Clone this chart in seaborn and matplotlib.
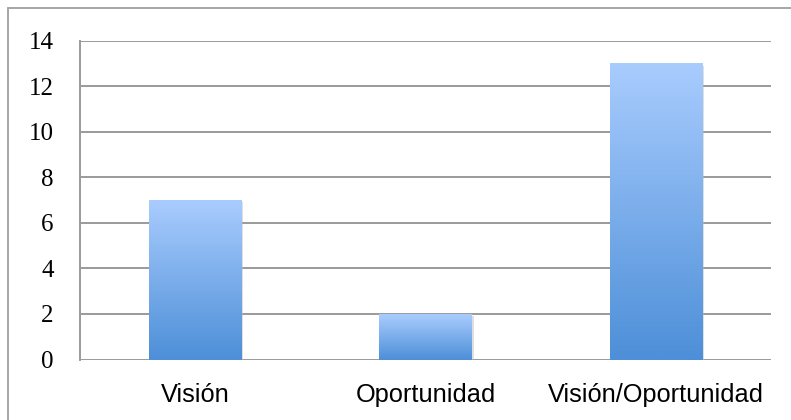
import numpy as np
import pandas as pd
import matplotlib
matplotlib.use("Agg")
import matplotlib.pyplot as plt
import matplotlib.patheffects as pe
from matplotlib.colors import LinearSegmentedColormap
from matplotlib.lines import Line2D
import seaborn as sns

# Data
categories = ["Visión", "Oportunidad", "Visión/Oportunidad"]
values = [7, 2, 13]
y_ticks = [0, 2, 4, 6, 8, 10, 12, 14]

df = pd.DataFrame({"categoria": categories, "valor": values})

sns.set_theme(style="white")
plt.rcParams["font.family"] = ["Liberation Sans", "DejaVu Sans"]

fig = plt.figure(figsize=(7.91, 4.20), dpi=100)
ax = fig.add_axes([80 / 791, 60.5 / 420, 691 / 791, 318.8 / 420])

sns.barplot(data=df, x="categoria", y="valor", color="#7aaee9",
            width=0.4, ax=ax, zorder=3)

ax.set_ylim(0, 14)
ax.set_xlim(-0.5, 2.5)
ax.set_yticks(y_ticks)
ax.set_xlabel("")
ax.set_ylabel("")

# vertical gradient inside each bar (light top, darker bottom)
grad_cmap = LinearSegmentedColormap.from_list("excel_blue", ["#4d8fd8", "#a9ccfe"])
grad = np.linspace(0, 1, 256).reshape(-1, 1)
for bar in ax.patches:
    x0, y0 = bar.get_x(), bar.get_y()
    w, h = bar.get_width(), bar.get_height()
    bar.set_edgecolor("none")
    bar.set_path_effects([pe.SimplePatchShadow(offset=(1.5, -1.5), shadow_rgbFace="#b8b8b8",
                                               alpha=0.45), pe.Normal()])
    ax.imshow(grad, extent=[x0, x0 + w, y0, y0 + h], origin="lower",
              aspect="auto", cmap=grad_cmap, zorder=4)
ax.set_ylim(0, 14)
ax.set_xlim(-0.5, 2.5)

# grid and spines
ax.yaxis.grid(True, color="#9a9a9a", linewidth=1.4, zorder=1)
ax.xaxis.grid(False)
for side in ["top", "right", "bottom"]:
    ax.spines[side].set_visible(False)
ax.spines["left"].set_color("#9a9a9a")
ax.spines["left"].set_linewidth(1.4)
ax.set_axisbelow(True)

ax.tick_params(axis="both", length=0)
ax.tick_params(axis="y", pad=19)
ax.tick_params(axis="x", pad=17)
for lbl in ax.get_yticklabels():
    lbl.set_fontfamily(["Liberation Serif", "DejaVu Serif"])
    lbl.set_fontsize(18)
    lbl.set_color("black")
for lbl in ax.get_xticklabels():
    lbl.set_fontsize(18.3)
    lbl.set_color("black")

# outer chart frame (only top/left visible in the crop)
fig.add_artist(Line2D([7.5 / 791, 7.5 / 791], [0, 1 - 7.5 / 420],
                      transform=fig.transFigure, color="#a6a6a6", linewidth=1.4))
fig.add_artist(Line2D([7.5 / 791, 1], [1 - 7.5 / 420, 1 - 7.5 / 420],
                      transform=fig.transFigure, color="#a6a6a6", linewidth=1.4))

fig.savefig("out.png", dpi=100)
